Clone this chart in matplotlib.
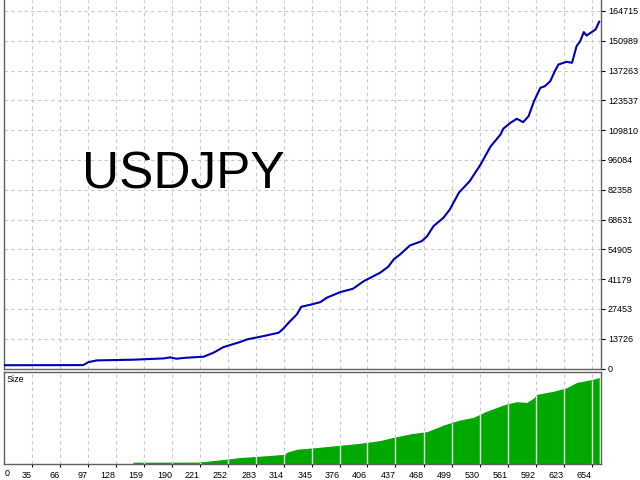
import matplotlib
matplotlib.use("Agg")
import matplotlib.pyplot as plt
import numpy as np

plt.rcParams['font.family'] = ['Liberation Sans', 'DejaVu Sans']

# balance curve (trade number, balance)
bal_trades = [0, 92, 98, 107, 147, 181, 188, 195, 206, 225, 236, 247, 265, 273,
              291, 308, 313, 319, 328, 333, 343, 354, 361, 376, 390, 402, 420,
              429, 435, 442, 453, 466, 472, 479, 490, 497, 507, 519, 531, 542,
              553, 556, 564, 571, 578, 584, 590, 597, 602, 608, 613, 617, 626,
              632, 637, 641, 645, 648, 658, 662]
bal_values = [1500, 1570, 2950, 3730, 4050, 4650, 5110, 4510, 4970, 5430, 7280,
              9860, 12160, 13400, 14920, 16490, 18330, 21100, 24920, 28460,
              29390, 30580, 32600, 35200, 36750, 40250, 44130, 46890, 50250,
              52550, 56700, 58680, 61000, 65600, 69460, 73280, 80970, 86320,
              94000, 102300, 107800, 110450, 113200, 115050, 113500, 116250,
              123160, 129300, 130070, 132380, 136980, 140070, 141300, 140850,
              148500, 150800, 155000, 153400, 156200, 159800]

# lot size per trade
size_trades = [147, 219, 243, 265, 282, 297, 315, 317, 328, 350, 372, 387, 398,
               420, 435, 455, 472, 490, 508, 523, 538, 558, 571, 582, 589, 593,
               612, 626, 637, 656, 662]
size_values = [0.15, 0.16, 0.38, 0.62, 0.72, 0.82, 0.95, 1.15, 1.45, 1.62, 1.82,
               1.95, 2.05, 2.32, 2.65, 3.02, 3.22, 3.88, 4.38, 4.65, 5.28, 5.95,
               6.22, 6.15, 6.55, 6.95, 7.28, 7.62, 8.15, 8.48, 8.65]

y_ticks = [0, 13726, 27453, 41179, 54905, 68631, 82358, 96084, 109810,
           123537, 137263, 150989, 164715]
x_ticks = [35, 66, 97, 128, 159, 190, 221, 252, 283, 314, 345, 376, 406,
           437, 468, 499, 530, 561, 592, 623, 654]

W, H = 640, 480
fig = plt.figure(figsize=(6.4, 4.8), dpi=100)
ax = fig.add_axes([3.5 / W, 1 - 368.5 / H, (601 - 3.5) / W, 368.5 / H])
ax2 = fig.add_axes([3.5 / W, 1 - 463.7 / H, (601 - 3.5) / W, (463.7 - 371.5) / H])

grid_kw = dict(color='#c8c8c8', lw=0.8, linestyle=(0, (3, 3)))
edge = '#606060'

# main panel
for x in x_ticks:
    ax.axvline(x, zorder=0, **grid_kw)
for y in y_ticks[1:]:
    ax.axhline(y, zorder=0, **grid_kw)
ax.plot(bal_trades, bal_values, color='#0000b4', lw=1.5, zorder=3)
ax.set_xlim(4, 664)
ax.set_ylim(0, 169780)
ax.set_xticks([])
ax.yaxis.tick_right()
ax.set_yticks(y_ticks)
ax.set_yticklabels([str(v) for v in y_ticks])
ax.tick_params(axis='y', direction='out', length=3, width=0.8, pad=2,
               labelsize=6.5, colors='black')
ax.spines['top'].set_visible(False)
for s in ['left', 'right', 'bottom']:
    ax.spines[s].set_color(edge)
    ax.spines[s].set_linewidth(1.0)

ax.text(82 / W, 1 - 188.3 / H, 'USDJPY', transform=fig.transFigure,
        fontsize=37, color='black', ha='left', va='baseline')

# size panel
for x in x_ticks:
    ax2.axvline(x, zorder=0, **grid_kw)
ax2.fill_between(size_trades, size_values, color='#00a800', lw=0, zorder=2)
ax2.vlines(x_ticks, 0, np.interp(x_ticks, size_trades, size_values, left=0),
           color='#e6f4e6', lw=1, zorder=3)
ax2.set_xlim(4, 664)
ax2.set_ylim(0, 9.25)
ax2.set_yticks([])
ax2.set_xticks(x_ticks)
ax2.set_xticklabels([str(v) for v in x_ticks])
for lbl in ax2.get_xticklabels():
    lbl.set_ha('right')
ax2.tick_params(axis='x', direction='out', length=2, width=0.8, pad=3,
                labelsize=6.5, colors='black')
for s in ax2.spines.values():
    s.set_color(edge)
    s.set_linewidth(1.0)
fig.text(4.5 / W, 1 - 476 / H, '0', fontsize=6.5, ha='left', va='baseline')
fig.text(7 / W, 1 - 382 / H, 'Size', fontsize=6.5, ha='left', va='baseline')

fig.savefig('out.png', dpi=100)
